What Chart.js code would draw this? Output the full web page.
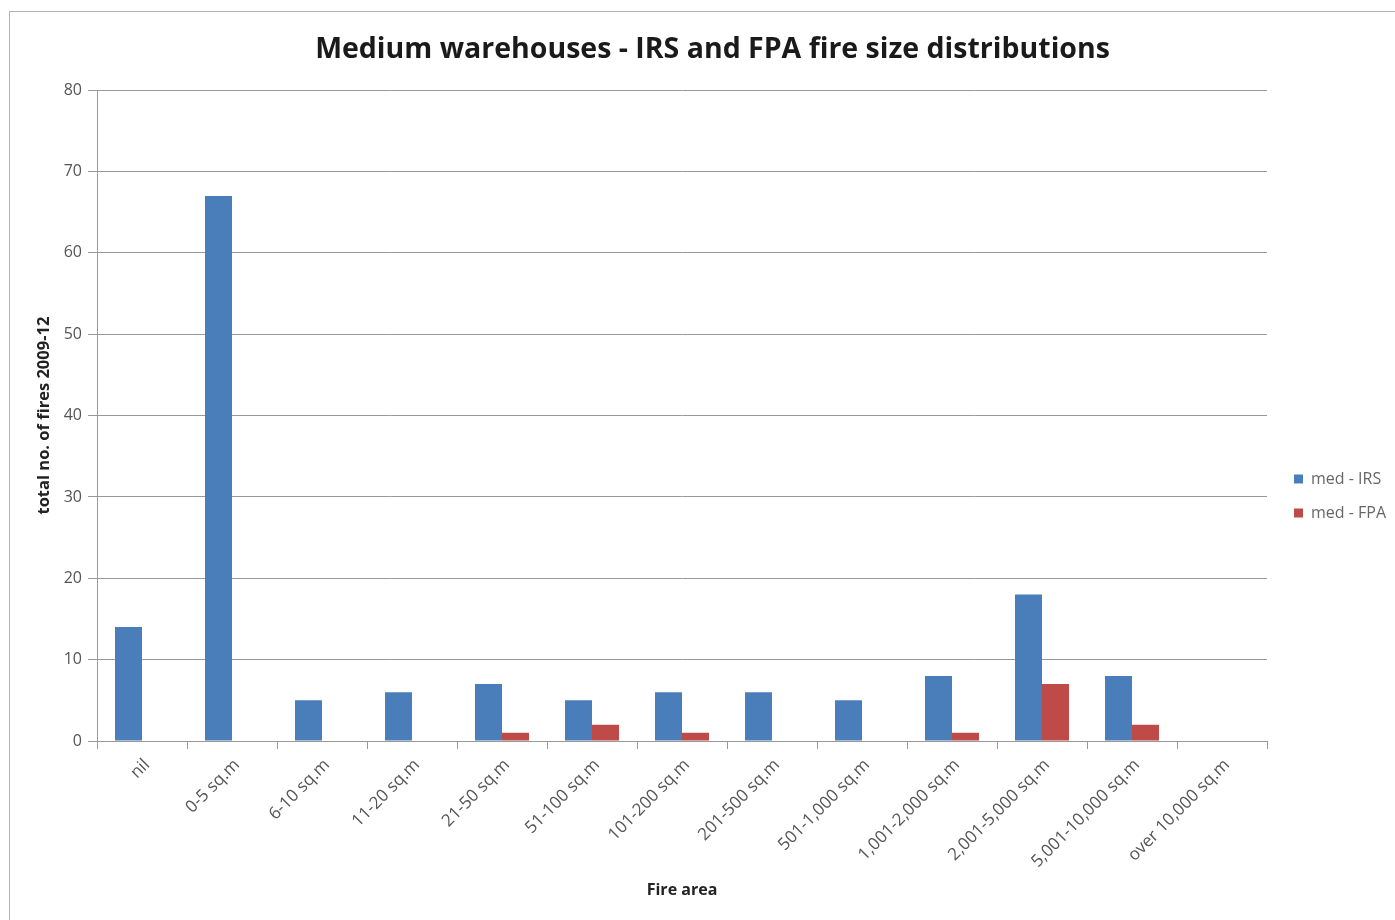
<!DOCTYPE html>
<html>
<head>
<meta charset="utf-8">
<script src="https://cdn.jsdelivr.net/npm/chart.js@4/dist/chart.umd.min.js"></script>
<style>
    html, body { margin: 0; padding: 0; background: #fff; }
    #wrap { position: absolute; left: 0; top: 0; width: 1395px; height: 920px; }
    #frame { position: absolute; left: 9px; top: 11px; width: 1400px; height: 920px; border: 1px solid #b4b4b4; }
</style>
</head>
<body>
<div id="frame"></div>
<div id="wrap"><canvas id="fire-chart" width="1395" height="920"></canvas></div>
<script>
const categories = ["nil", "0-5 sq.m", "6-10 sq.m", "11-20 sq.m", "21-50 sq.m", "51-100 sq.m", "101-200 sq.m",
    "201-500 sq.m", "501-1,000 sq.m", "1,001-2,000 sq.m", "2,001-5,000 sq.m", "5,001-10,000 sq.m", "over 10,000 sq.m"];
const irsValues = [14, 67, 5, 6, 7, 5, 6, 6, 5, 8, 18, 8, 0];
const fpaValues = [0, 0, 0, 0, 1, 2, 1, 0, 0, 1, 7, 2, 0];
const yTicks = [0, 10, 20, 30, 40, 50, 60, 70, 80];

const font = "'Open Sans', 'DejaVu Sans', sans-serif";

// put the legend where Excel had it, right of the plot, a bit below the middle
const legendPlacer = {
    id: 'legendPlacer',
    afterInit(chart) {
        const legend = chart.legend;
        const origFit = legend.fit;
        legend.fit = function () {
            origFit.call(this);
            this.width = 128;
        };
    },
    afterLayout(chart) {
        const legend = chart.legend;
        const w = legend.right - legend.left;
        const h = legend.bottom - legend.top;
        legend.left = 1276;
        legend.right = legend.left + w;
        legend.top = 453;
        legend.bottom = legend.top + h;
    }
};

const chartCanvas = document.getElementById("fire-chart");

new Chart(chartCanvas, {
    type: 'bar',
    data: {
        labels: categories,
        datasets: [{
            label: 'med - IRS',
            data: irsValues,
            backgroundColor: '#4a7ebb',
            borderWidth: 0
        }, {
            label: 'med - FPA',
            data: fpaValues,
            backgroundColor: '#be4b48',
            borderWidth: 0
        }]
    },
    options: {
        responsive: false,
        animation: false,
        categoryPercentage: 0.6,
        barPercentage: 1.0,
        layout: {
            padding: { left: 30, right: 0, top: 0, bottom: 0 }
        },
        plugins: {
            title: {
                display: true,
                text: 'Medium warehouses - IRS and FPA fire size distributions',
                color: '#1a1a1a',
                font: { family: font, size: 28.5, weight: 'bold' },
                padding: { top: 33, bottom: 23 }
            },
            legend: {
                position: 'right',
                align: 'start',
                labels: {
                    boxWidth: 9,
                    boxHeight: 9,
                    padding: 18,
                    color: '#666',
                    font: { family: font, size: 16 }
                }
            },
            tooltip: { enabled: false }
        },
        scales: {
            x: {
                grid: {
                    offset: true,
                    drawOnChartArea: false,
                    drawTicks: true,
                    tickLength: 8,
                    color: '#999'
                },
                border: { color: '#999' },
                ticks: {
                    minRotation: 45,
                    maxRotation: 45,
                    padding: 6,
                    labelOffset: 5,
                    color: '#555',
                    font: { family: font, size: 17 }
                },
                title: {
                    display: true,
                    text: 'Fire area',
                    color: '#222',
                    font: { family: font, size: 16, weight: 'bold' },
                    padding: { top: 4, bottom: 20 }
                },
                afterFit(scale) { scale.height = 179; }
            },
            y: {
                min: 0,
                max: 80,
                afterBuildTicks(scale) { scale.ticks = yTicks.map(v => ({ value: v })); },
                grid: {
                    color: '#999',
                    drawTicks: true,
                    tickLength: 9
                },
                border: { color: '#999' },
                ticks: {
                    color: '#555',
                    padding: 6,
                    font: { family: font, size: 16 }
                },
                title: {
                    display: true,
                    text: 'total no. of fires 2009-12',
                    color: '#222',
                    font: { family: font, size: 16.5, weight: 'bold' },
                    padding: { top: 4, bottom: 4 }
                },
                afterFit(scale) { scale.width = 67; }
            }
        }
    },
    plugins: [legendPlacer]
});
</script>
</body>
</html>
